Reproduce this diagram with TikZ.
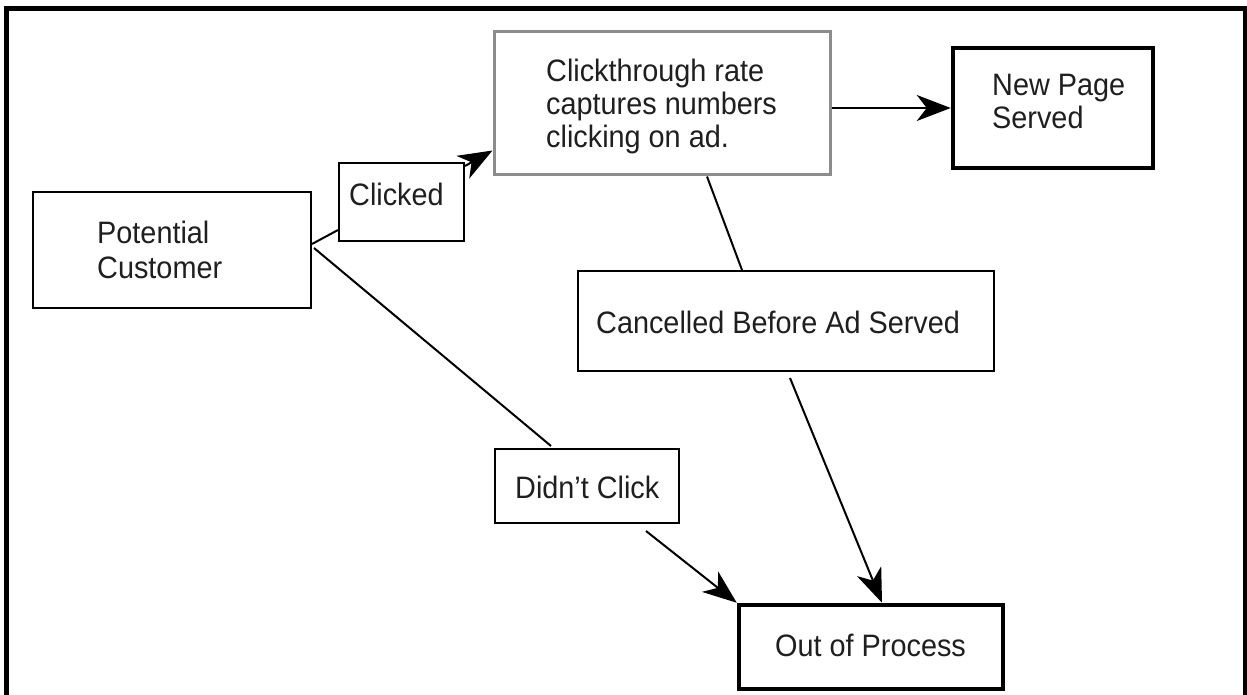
\documentclass[tikz,border=0pt]{standalone}
\usepackage{fontspec}
\setmainfont{Liberation Sans}[FakeStretch=0.93]
\usetikzlibrary{arrows.meta,calc}
\begin{document}
\begin{tikzpicture}[x=1pt,y=-1pt,
  box/.style={draw=black, line width=2pt, rectangle, inner sep=0pt, fill=white},
  thickbox/.style={box, line width=4.5pt},
  graybox/.style={box, draw=gray!90, line width=3pt},
  lbl/.style={inner sep=0pt, font=\fontsize{31}{33}\selectfont, text=black!88, align=left},
  conn/.style={line width=2pt},
  arr/.style={conn, -{Stealth[length=34pt,width=26pt,inset=10pt]}}
]
\useasboundingbox (0,0) rectangle (1247,695);
\fill[white] (0,0) rectangle (1247,695);
% outer frame
\draw[line width=5pt] (6,700) -- (6,9) -- (1245,9) -- (1245,700);

% boxes
\node[box, minimum width=278pt, minimum height=116pt] (pc) at (172,250) {};
\node[box, minimum width=125pt, minimum height=78pt] (clicked) at (401.5,202) {};
\node[graybox, minimum width=336pt, minimum height=143pt] (ctr) at (662,103.5) {};
\node[thickbox, minimum width=200pt, minimum height=120pt] (nps) at (1053,108) {};
\node[box, minimum width=416pt, minimum height=100pt] (cancel) at (786,321) {};
\node[box, minimum width=184pt, minimum height=74pt] (didnt) at (587,486) {};
\node[thickbox, minimum width=264pt, minimum height=84pt] (oop) at (871,647) {};

% texts
\node[lbl, anchor=north west, font=\fontsize{31}{35}\selectfont] (pcT) at (97,221) {Potential\\Customer};
\node[lbl, anchor=base west] (clickedT) at (349,206) {Clicked};
\node[lbl, anchor=north west] (ctrT) at (546,59) {Clickthrough rate\\captures numbers\\clicking on ad.};
\node[lbl, anchor=north west] (npsT) at (992,74) {New Page\\Served};
\node[lbl, anchor=base west] (cancelT) at (596,333) {Cancelled Before Ad Served};
\node[lbl, anchor=base west] (didntT) at (515,498) {Didn't Click};
\node[lbl, anchor=base west] (oopT) at (775,656) {Out of Process};

% connectors
\draw[conn] ([yshift=6pt]pc.east) -- ([yshift=12pt]clicked.south west);
\draw[arr] ([yshift=-4pt]clicked.north east) -- ([yshift=26pt]ctr.south west);
\draw[arr] (ctr.east |- nps.west) -- (nps.west);
\draw[conn] ([xshift=45pt]ctr.south) -- ([xshift=-44pt]cancel.north);
\draw[arr] ([xshift=4pt,yshift=-6pt]cancel.south) -- ([xshift=11pt]oop.north);
\draw[conn] ([xshift=2pt,yshift=2pt]pc.east) -- ([xshift=-36pt,yshift=2pt]didnt.north);
\draw[arr] ([xshift=59pt,yshift=-7pt]didnt.south) -- (oop.north west);
\end{tikzpicture}
\end{document}
